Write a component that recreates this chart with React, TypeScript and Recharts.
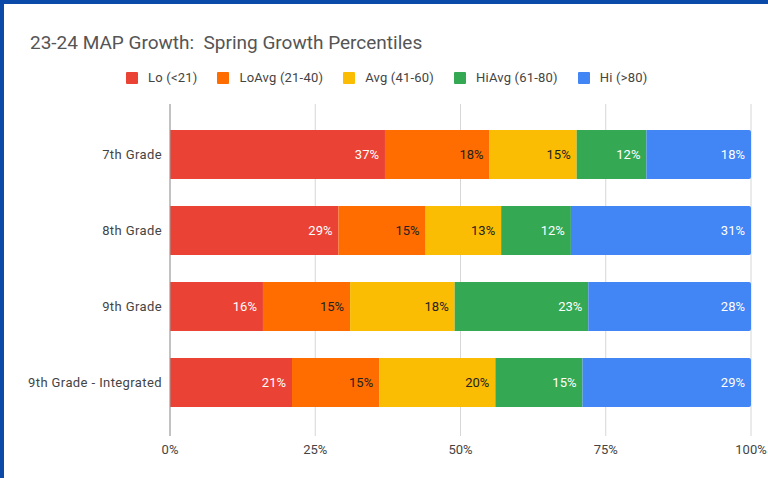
import React from "react"
import { BarChart, Bar, XAxis, YAxis, CartesianGrid, LabelList } from "recharts"

const grades = ["7th Grade", "8th Grade", "9th Grade", "9th Grade - Integrated"]
const lo = [37, 29, 16, 21]
const loAvg = [18, 15, 15, 15]
const avg = [15, 13, 18, 20]
const hiAvg = [12, 12, 23, 15]
const hi = [18, 31, 28, 29]
const xTicks = [0, 25, 50, 75, 100]

const series = [
  { key: "lo", name: "Lo (<21)", color: "#ea4335", text: "#ffffff" },
  { key: "loAvg", name: "LoAvg (21-40)", color: "#ff6d01", text: "#222222" },
  { key: "avg", name: "Avg (41-60)", color: "#fbbc04", text: "#222222" },
  { key: "hiAvg", name: "HiAvg (61-80)", color: "#34a853", text: "#ffffff" },
  { key: "hi", name: "Hi (>80)", color: "#4285f4", text: "#ffffff" },
]

const data = grades.map((grade, i) => ({
  grade,
  lo: lo[i],
  loAvg: loAvg[i],
  avg: avg[i],
  hiAvg: hiAvg[i],
  hi: hi[i],
}))

const font = "Roboto, 'Noto Sans', sans-serif"

export default function App() {
  return (
    <div
      style={{
        position: "fixed",
        top: 0,
        left: 0,
        width: 768,
        height: 478,
        background: "#ffffff",
        fontFamily: font,
        overflow: "hidden",
      }}
    >
      {/* frame */}
      <div style={{ position: "absolute", top: 0, left: 0, width: 768, height: 4, background: "#0b4aa8" }} />
      <div style={{ position: "absolute", top: 0, left: 0, width: 4, height: 478, background: "#0b4aa8" }} />

      <div
        style={{
          position: "absolute",
          top: 32,
          left: 30,
          fontSize: 19,
          lineHeight: "22px",
          color: "#555555",
          whiteSpace: "pre",
        }}
      >
        {"23-24 MAP Growth:  Spring Growth Percentiles"}
      </div>

      <div
        style={{
          position: "absolute",
          top: 70,
          left: 126,
          display: "flex",
          alignItems: "center",
          fontSize: 13,
          letterSpacing: 0.2,
          color: "#444444",
        }}
      >
        {series.map((s) => (
          <div key={s.key} style={{ display: "flex", alignItems: "center", marginRight: 20 }}>
            <div style={{ width: 12, height: 12, background: s.color, borderRadius: 1, marginRight: 10 }} />
            <span>{s.name}</span>
          </div>
        ))}
      </div>

      <BarChart
        width={768}
        height={478}
        data={data}
        layout="vertical"
        margin={{ top: 104, right: 17, bottom: 12, left: 10 }}
        style={{ position: "absolute", top: 0, left: 0 }}
      >
        <CartesianGrid horizontal={false} stroke="#d6d6d6" />
        <XAxis
          type="number"
          domain={[0, 100]}
          ticks={xTicks}
          tickFormatter={(v: number) => `${v}%`}
          axisLine={false}
          tickLine={false}
          height={30}
          tickMargin={3}
          tick={{ fontSize: 13, fill: "#444444", fontFamily: font }}
        />
        <YAxis
          type="category"
          dataKey="grade"
          width={160}
          axisLine={{ stroke: "#999999" }}
          tickLine={false}
          padding={{ top: 12, bottom: 16 }}
          tick={{ fontSize: 13, fill: "#444444", fontFamily: font, letterSpacing: 0.4 }}
          tickMargin={2}
        />
        {series.map((s, idx) => (
          <Bar
            key={s.key}
            dataKey={s.key}
            name={s.name}
            stackId="a"
            fill={s.color}
            barSize={49}
            radius={idx === series.length - 1 ? [0, 2, 2, 0] : 0}
            isAnimationActive={false}
          >
            <LabelList
              dataKey={s.key}
              position="insideRight"
              offset={6}
              formatter={(v: number) => `${v}%`}
              style={{ fontSize: 13, fill: s.text, fontFamily: font }}
            />
          </Bar>
        ))}
      </BarChart>
    </div>
  )
}
